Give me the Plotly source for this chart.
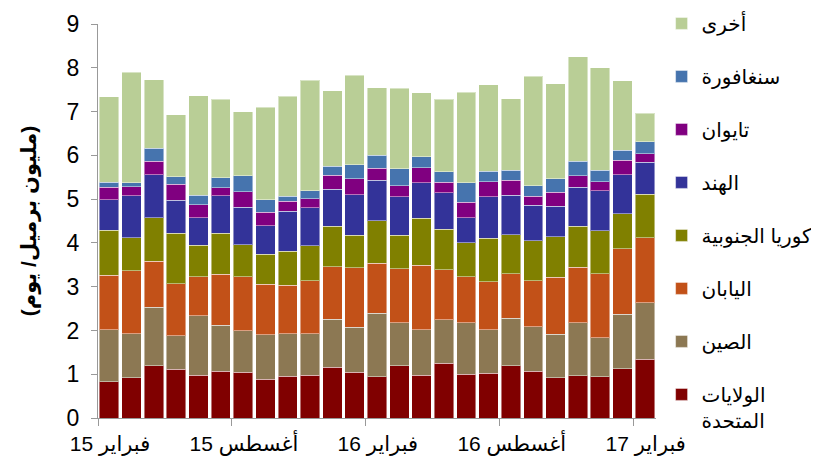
import plotly.graph_objects as go

months = ["2015-02", "2015-03", "2015-04", "2015-05", "2015-06", "2015-07", "2015-08", "2015-09",
          "2015-10", "2015-11", "2015-12", "2016-01", "2016-02", "2016-03", "2016-04", "2016-05",
          "2016-06", "2016-07", "2016-08", "2016-09", "2016-10", "2016-11", "2016-12", "2017-01",
          "2017-02"]

tick_months = ["2015-02", "2015-08", "2016-02", "2016-08", "2017-02"]
tick_labels = ["15 فبراير", "15 أغسطس", "16 فبراير", "16 أغسطس", "17 فبراير"]

us = [0.83, 0.92, 1.19, 1.11, 0.98, 1.07, 1.04, 0.89, 0.95, 0.98, 1.16, 1.04, 0.94,
      1.19, 0.98, 1.25, 1.00, 1.02, 1.19, 1.07, 0.92, 0.96, 0.94, 1.13, 1.34]
china = [1.19, 1.00, 1.34, 0.77, 1.36, 1.05, 0.95, 1.01, 0.98, 0.94, 1.10, 1.03, 1.45,
         0.99, 1.04, 0.99, 1.18, 1.00, 1.09, 1.02, 0.99, 1.22, 0.89, 1.24, 1.29]
japan = [1.24, 1.44, 1.05, 1.19, 0.89, 1.16, 1.24, 1.16, 1.10, 1.22, 1.20, 1.36, 1.14,
         1.23, 1.47, 1.15, 1.05, 1.09, 1.01, 1.05, 1.30, 1.26, 1.46, 1.50, 1.49]
korea = [1.03, 0.76, 1.00, 1.15, 0.72, 0.94, 0.73, 0.68, 0.78, 0.79, 0.92, 0.74, 0.98,
         0.77, 1.07, 0.92, 0.77, 1.00, 0.90, 0.91, 0.93, 0.94, 0.99, 0.80, 0.99]
india = [0.70, 0.96, 0.98, 0.75, 0.62, 0.86, 0.85, 0.65, 0.91, 0.87, 0.84, 0.93, 0.92,
         0.87, 0.81, 0.83, 0.58, 0.94, 0.90, 0.81, 0.70, 0.89, 0.91, 0.89, 0.73]
taiwan = [0.28, 0.20, 0.30, 0.37, 0.30, 0.18, 0.36, 0.31, 0.23, 0.21, 0.32, 0.36, 0.27,
          0.26, 0.35, 0.25, 0.35, 0.35, 0.34, 0.21, 0.32, 0.26, 0.21, 0.33, 0.20]
singapore = [0.12, 0.09, 0.30, 0.17, 0.22, 0.23, 0.36, 0.28, 0.12, 0.18, 0.21, 0.33, 0.30,
             0.38, 0.25, 0.23, 0.44, 0.24, 0.23, 0.24, 0.30, 0.34, 0.26, 0.23, 0.27]
other = [1.95, 2.53, 1.57, 1.42, 2.27, 1.79, 1.46, 2.12, 2.28, 2.53, 1.73, 2.04, 1.54,
         1.84, 1.46, 1.66, 2.07, 1.97, 1.63, 2.50, 2.18, 2.38, 2.34, 1.58, 0.65]

series = [
    ("الولايات<br>المتحدة", us, "#800000"),
    ("الصين", china, "#8C7853"),
    ("اليابان", japan, "#C25118"),
    ("كوريا الجنوبية", korea, "#808000"),
    ("الهند", india, "#333399"),
    ("تايوان", taiwan, "#800080"),
    ("سنغافورة", singapore, "#4674AE"),
    ("أخرى", other, "#B9CE96"),
]

x = list(range(len(months)))
fig = go.Figure()
n = len(series)
for i, (name, vals, col) in enumerate(series):
    fig.add_trace(go.Bar(
        x=x, y=vals, name=name, legendgroup=f"g{i}", legendrank=n - i,
        marker=dict(color=col, line=dict(color="rgba(255,255,255,0.45)", width=1)),
        customdata=months,
        hovertemplate="%{customdata}: %{y}<extra>" + name + "</extra>",
    ))

tickvals = [months.index(m) - 0.5 for m in tick_months]

# page body has an 8px margin; margins below compensate so the plot area sits at x 98-656, y 24-418
fig.update_layout(
    barmode="stack",
    bargap=0.13,
    width=819, height=464,
    margin=dict(l=90, r=171, t=16, b=54, autoexpand=False),
    paper_bgcolor="white", plot_bgcolor="white",
    font=dict(family="Liberation Sans, Arial, DejaVu Sans, sans-serif", color="#000000"),
    showlegend=True,
    legend=dict(
        x=1.010, y=1.051, xanchor="left", yanchor="top",
        traceorder="grouped", tracegroupgap=24,
        bgcolor="rgba(0,0,0,0)",
        font=dict(size=20, color="#000000"),
        valign="top", itemwidth=30, maxheight=462,
    ),
    xaxis=dict(
        range=[-0.5, len(months) - 0.5],
        tickmode="array", tickvals=tickvals, ticktext=tick_labels,
        ticks="outside", ticklen=7, tickcolor="#999999",
        showline=True, linecolor="#999999", linewidth=1,
        showgrid=False, zeroline=False, automargin=False,
        tickfont=dict(size=21), ticklabelshift=12,
    ),
    yaxis=dict(
        range=[0, 9], dtick=1,
        ticks="outside", ticklen=6, tickcolor="#999999",
        showline=True, linecolor="#999999", linewidth=1,
        showgrid=False, zeroline=False, automargin=False,
        tickfont=dict(size=23), ticklabelstandoff=7,
        title=dict(text="<b>(مليون برميل/ يوم)</b>", font=dict(size=21), standoff=24),
    ),
)

fig.write_html("out.html")
